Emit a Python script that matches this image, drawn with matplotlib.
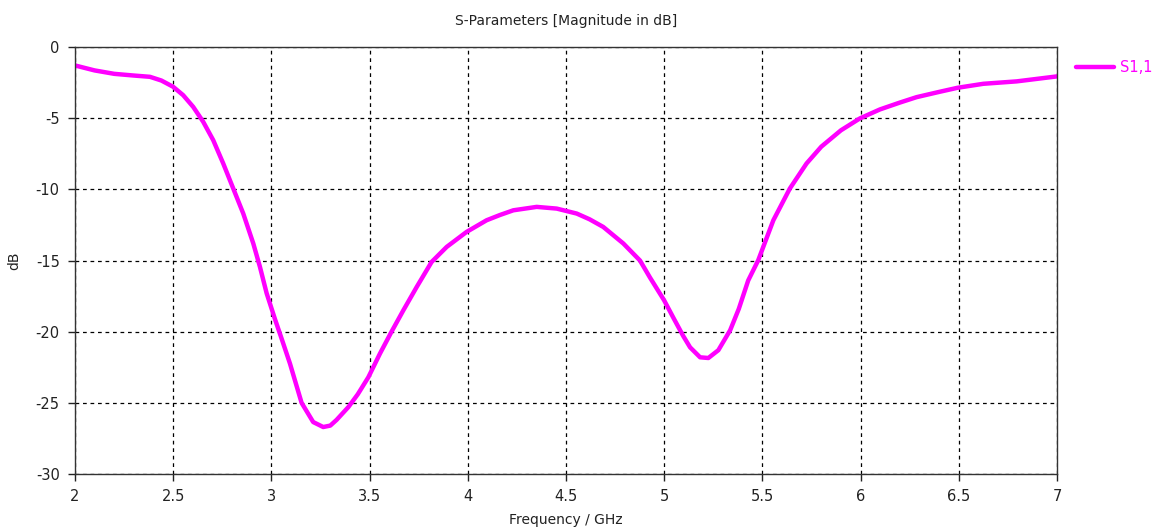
import matplotlib.pyplot as plt

plt.rcParams['axes.unicode_minus'] = False

# S1,1
freq_ghz = [2.00, 2.10, 2.20, 2.30, 2.382, 2.44, 2.50, 2.551, 2.602, 2.653,
            2.704, 2.755, 2.806, 2.857, 2.908, 2.942, 2.976, 3.018, 3.055, 3.095,
            3.154, 3.213, 3.264, 3.30, 3.332, 3.392, 3.44, 3.494, 3.553, 3.612,
            3.672, 3.74, 3.816, 3.893, 3.994, 4.096, 4.164, 4.232, 4.351, 4.453,
            4.555, 4.62, 4.69, 4.792, 4.877, 4.928, 5.00, 5.05, 5.097, 5.132,
            5.183, 5.225, 5.276, 5.336, 5.38, 5.428, 5.479, 5.556, 5.640, 5.725,
            5.80, 5.90, 5.997, 6.099, 6.20, 6.285, 6.40, 6.494, 6.625, 6.795,
            7.00]
s11_db = [-1.29, -1.64, -1.88, -2.0, -2.09, -2.35, -2.79, -3.38, -4.2, -5.25,
          -6.54, -8.18, -9.94, -11.7, -13.8, -15.45, -17.3, -19.1, -20.6, -22.25,
          -25.0, -26.35, -26.7, -26.6, -26.2, -25.3, -24.4, -23.2, -21.54, -20.0,
          -18.5, -16.86, -15.1, -14.04, -12.99, -12.17, -11.8, -11.47, -11.23, -11.35,
          -11.7, -12.1, -12.64, -13.8, -15.0, -16.2, -17.8, -19.1, -20.3, -21.1,
          -21.8, -21.85, -21.3, -19.9, -18.4, -16.4, -14.98, -12.17, -9.94, -8.18,
          -7.0, -5.85, -5.01, -4.38, -3.9, -3.52, -3.15, -2.86, -2.58, -2.41,
          -2.06]

x_ticks = [2, 2.5, 3, 3.5, 4, 4.5, 5, 5.5, 6, 6.5, 7]
x_tick_labels = ['2', '2.5', '3', '3.5', '4', '4.5', '5', '5.5', '6', '6.5', '7']
y_ticks = [0, -5, -10, -15, -20, -25, -30]

fig = plt.figure(figsize=(11.53, 5.29), dpi=100)
ax = fig.add_axes([0.065, 0.104, 0.8517, 0.807])

ax.plot(freq_ghz, s11_db, color='#ff00ff', lw=3.2, label='S1,1',
        solid_capstyle='round', solid_joinstyle='round')

ax.set_xlim(2, 7)
ax.set_ylim(-30, 0)
ax.set_xticks(x_ticks)
ax.set_xticklabels(x_tick_labels)
ax.set_yticks(y_ticks)
ax.grid(True, color='black', linestyle=(0, (3, 3)), linewidth=0.9)
ax.tick_params(axis='both', direction='out', length=5, width=1,
               labelsize=10.5, colors='#222222', pad=6)
for s in ax.spines.values():
    s.set_color('#333333')
    s.set_linewidth(1)

ax.set_title('S-Parameters [Magnitude in dB]', fontsize=10, color='#222222', pad=16)
ax.set_xlabel('Frequency / GHz', fontsize=10, color='#222222', labelpad=6)
ax.set_ylabel('dB', fontsize=10, color='#222222', labelpad=10)

leg = ax.legend(loc='upper left', bbox_to_anchor=(1.006, 1.0), frameon=False,
                fontsize=10.5, handlelength=2.6, handletextpad=0.4)
for t in leg.get_texts():
    t.set_color('#ff00ff')

fig.savefig('out.png', dpi=100)
